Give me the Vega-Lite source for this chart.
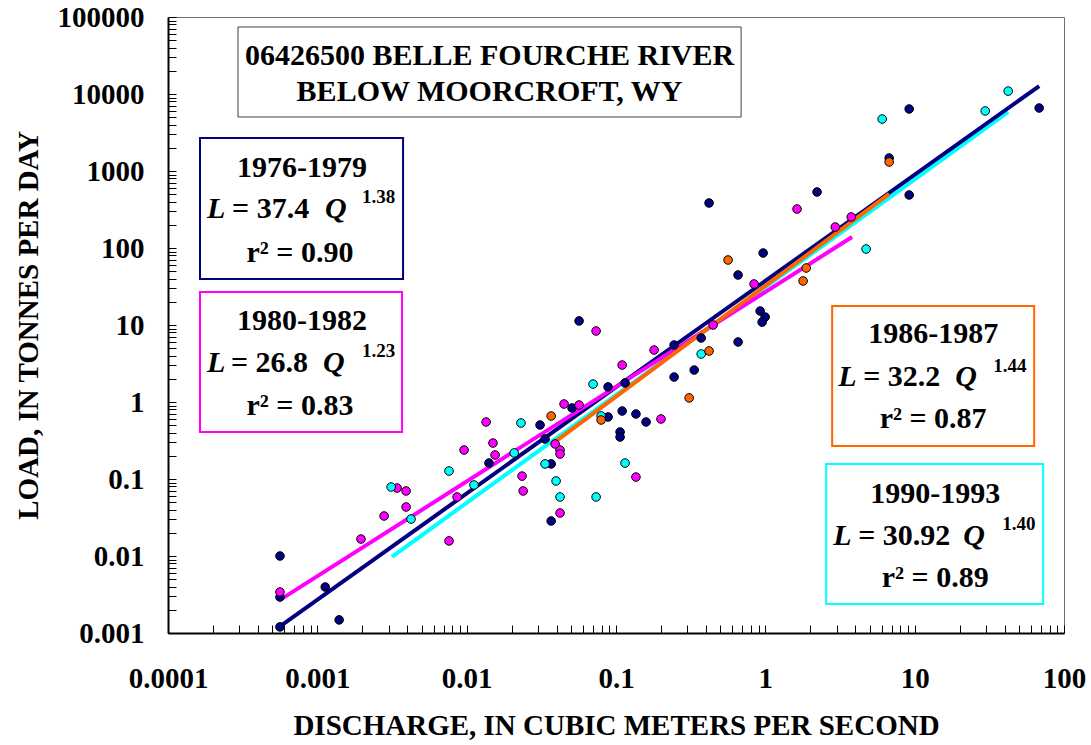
{
  "$schema": "https://vega.github.io/schema/vega-lite/v6.json",
  "width": 896,
  "height": 616,
  "autosize": {"type": "none"},
  "padding": {"left": 168, "top": 17, "right": 27, "bottom": 112},
  "background": "white",
  "config": {
    "font": "Liberation Serif",
    "view": {"stroke": "#707070", "strokeWidth": 1},
    "axis": {
      "grid": false,
      "domainColor": "black",
      "domainWidth": 2,
      "tickColor": "black",
      "tickWidth": 1,
      "tickSize": -8,
      "labelFont": "Liberation Serif",
      "labelFontSize": 29,
      "labelFontWeight": "bold",
      "labelColor": "black",
      "labelOverlap": false,
      "labelFlush": false,
      "labelBound": false,
      "titleFont": "Liberation Serif",
      "titleFontSize": 29,
      "titleFontWeight": "bold",
      "titleColor": "black"
    }
  },
  "datasets": {
    "pts": [
      {"period": "1976-1979", "Q": 0.000562, "L": 0.01},
      {"period": "1976-1979", "Q": 0.000562, "L": 0.00293},
      {"period": "1976-1979", "Q": 0.000562, "L": 0.0012},
      {"period": "1976-1979", "Q": 0.00113, "L": 0.00396},
      {"period": "1976-1979", "Q": 0.0014, "L": 0.00148},
      {"period": "1976-1979", "Q": 0.0141, "L": 0.161},
      {"period": "1976-1979", "Q": 0.031, "L": 0.503},
      {"period": "1976-1979", "Q": 0.0508, "L": 0.836},
      {"period": "1976-1979", "Q": 0.0335, "L": 0.331},
      {"period": "1976-1979", "Q": 0.0368, "L": 0.157},
      {"period": "1976-1979", "Q": 0.0368, "L": 0.0285},
      {"period": "1976-1979", "Q": 0.0885, "L": 1.57},
      {"period": "1976-1979", "Q": 0.0885, "L": 0.639},
      {"period": "1976-1979", "Q": 0.1065, "L": 0.408},
      {"period": "1976-1979", "Q": 0.1065, "L": 0.351},
      {"period": "1976-1979", "Q": 0.11, "L": 0.764},
      {"period": "1976-1979", "Q": 0.136, "L": 0.699},
      {"period": "1976-1979", "Q": 0.159, "L": 0.55},
      {"period": "1976-1979", "Q": 0.115, "L": 1.77},
      {"period": "1976-1979", "Q": 0.0566, "L": 11.3},
      {"period": "1976-1979", "Q": 0.245, "L": 5.5},
      {"period": "1976-1979", "Q": 0.372, "L": 6.78},
      {"period": "1976-1979", "Q": 0.245, "L": 2.11},
      {"period": "1976-1979", "Q": 0.334, "L": 2.6},
      {"period": "1976-1979", "Q": 0.657, "L": 6.02},
      {"period": "1976-1979", "Q": 0.923, "L": 15.2},
      {"period": "1976-1979", "Q": 0.997, "L": 12.7},
      {"period": "1976-1979", "Q": 0.952, "L": 10.9},
      {"period": "1976-1979", "Q": 0.42, "L": 384},
      {"period": "1976-1979", "Q": 2.22, "L": 534},
      {"period": "1976-1979", "Q": 9.19, "L": 6390},
      {"period": "1976-1979", "Q": 68.2, "L": 6580},
      {"period": "1976-1979", "Q": 6.75, "L": 1475},
      {"period": "1976-1979", "Q": 9.19, "L": 488},
      {"period": "1976-1979", "Q": 0.967, "L": 86.1},
      {"period": "1976-1979", "Q": 0.657, "L": 44.6},
      {"period": "1980-1982", "Q": 0.000562, "L": 0.00341},
      {"period": "1980-1982", "Q": 0.00196, "L": 0.0166},
      {"period": "1980-1982", "Q": 0.0028, "L": 0.0331},
      {"period": "1980-1982", "Q": 0.00342, "L": 0.0764},
      {"period": "1980-1982", "Q": 0.00393, "L": 0.0699},
      {"period": "1980-1982", "Q": 0.00393, "L": 0.0433},
      {"period": "1980-1982", "Q": 0.00762, "L": 0.0157},
      {"period": "1980-1982", "Q": 0.00863, "L": 0.0584},
      {"period": "1980-1982", "Q": 0.00961, "L": 0.238},
      {"period": "1980-1982", "Q": 0.0135, "L": 0.55},
      {"period": "1980-1982", "Q": 0.015, "L": 0.293},
      {"period": "1980-1982", "Q": 0.0155, "L": 0.205},
      {"period": "1980-1982", "Q": 0.0235, "L": 0.109},
      {"period": "1980-1982", "Q": 0.0239, "L": 0.0699},
      {"period": "1980-1982", "Q": 0.0422, "L": 0.238},
      {"period": "1980-1982", "Q": 0.0422, "L": 0.211},
      {"period": "1980-1982", "Q": 0.0391, "L": 0.285},
      {"period": "1980-1982", "Q": 0.0422, "L": 0.0362},
      {"period": "1980-1982", "Q": 0.0449, "L": 0.942},
      {"period": "1980-1982", "Q": 0.0566, "L": 0.914},
      {"period": "1980-1982", "Q": 0.136, "L": 0.106},
      {"period": "1980-1982", "Q": 0.2, "L": 0.602},
      {"period": "1980-1982", "Q": 0.0736, "L": 8.36},
      {"period": "1980-1982", "Q": 0.11, "L": 3.02},
      {"period": "1980-1982", "Q": 0.18, "L": 4.73},
      {"period": "1980-1982", "Q": 0.841, "L": 34.1},
      {"period": "1980-1982", "Q": 0.447, "L": 10},
      {"period": "1980-1982", "Q": 1.63, "L": 321},
      {"period": "1980-1982", "Q": 2.94, "L": 187},
      {"period": "1980-1982", "Q": 3.76, "L": 253},
      {"period": "1990-1993", "Q": 0.00312, "L": 0.0787},
      {"period": "1990-1993", "Q": 0.00424, "L": 0.0302},
      {"period": "1990-1993", "Q": 0.00762, "L": 0.127},
      {"period": "1990-1993", "Q": 0.0112, "L": 0.0836},
      {"period": "1990-1993", "Q": 0.0231, "L": 0.534},
      {"period": "1990-1993", "Q": 0.0208, "L": 0.218},
      {"period": "1990-1993", "Q": 0.0335, "L": 0.157},
      {"period": "1990-1993", "Q": 0.0397, "L": 0.0942},
      {"period": "1990-1993", "Q": 0.0422, "L": 0.0584},
      {"period": "1990-1993", "Q": 0.0736, "L": 0.0584},
      {"period": "1990-1993", "Q": 0.0702, "L": 1.71},
      {"period": "1990-1993", "Q": 0.0795, "L": 0.658},
      {"period": "1990-1993", "Q": 0.115, "L": 0.161},
      {"period": "1990-1993", "Q": 0.372, "L": 4.2},
      {"period": "1990-1993", "Q": 6.06, "L": 4730},
      {"period": "1990-1993", "Q": 29.7, "L": 6020},
      {"period": "1990-1993", "Q": 42.3, "L": 10900},
      {"period": "1990-1993", "Q": 4.73, "L": 97},
      {"period": "1986-1987", "Q": 0.0368, "L": 0.658},
      {"period": "1986-1987", "Q": 0.0795, "L": 0.584},
      {"period": "1986-1987", "Q": 0.42, "L": 4.6},
      {"period": "1986-1987", "Q": 0.309, "L": 1.13},
      {"period": "1986-1987", "Q": 1.79, "L": 37.3},
      {"period": "1986-1987", "Q": 0.563, "L": 69.9},
      {"period": "1986-1987", "Q": 6.75, "L": 1310},
      {"period": "1986-1987", "Q": 1.88, "L": 55}
    ],
    "fits": [
      {"period": "1976-1979", "Q": 0.000562, "L": 0.00122},
      {"period": "1976-1979", "Q": 68.2, "L": 12690},
      {"period": "1980-1982", "Q": 0.000562, "L": 0.00269},
      {"period": "1980-1982", "Q": 3.81, "L": 139},
      {"period": "1986-1987", "Q": 0.0373, "L": 0.283},
      {"period": "1986-1987", "Q": 6.75, "L": 504},
      {"period": "1990-1993", "Q": 0.00316, "L": 0.00977},
      {"period": "1990-1993", "Q": 42.3, "L": 5850}
    ],
    "boxes": [
      {"period": "1976-1979", "Q": 0.0001638, "Q2": 0.00375, "L": 39.57, "L2": 2683},
      {"period": "1980-1982", "Q": 0.0001638, "Q2": 0.003693, "L": 0.4077, "L2": 26.83},
      {"period": "1986-1987", "Q": 2.802, "Q2": 63.15, "L": 0.2683, "L2": 17.65},
      {"period": "1990-1993", "Q": 2.554, "Q2": 72.55, "L": 0.00238, "L2": 0.1566}
    ],
    "titlebox": [
      {"Q": 0.0002944, "Q2": 0.6884, "L": 5027, "L2": 74170}
    ],
    "heads": [
      {"Q": 0.01423, "L": 23800, "text": "06426500 BELLE FOURCHE RIVER"},
      {"Q": 0.01423, "L": 8113, "text": "BELOW MOORCROFT, WY"},
      {"Q": 0.0007897, "L": 835.9, "text": "1976-1979"},
      {"Q": 0.0007656, "L": 65.8, "text": "r² = 0.90"},
      {"Q": 0.0007897, "L": 8.61, "text": "1980-1982"},
      {"Q": 0.0007656, "L": 0.678, "text": "r² = 0.83"},
      {"Q": 13.3, "L": 5.837, "text": "1986-1987"},
      {"Q": 13.3, "L": 0.4596, "text": "r² = 0.87"},
      {"Q": 13.72, "L": 0.04879, "text": "1990-1993"},
      {"Q": 13.72, "L": 0.00396, "text": "r² = 0.89"}
    ],
    "italics": [
      {"Q": 0.0001825, "L": 245.2, "text": "L"},
      {"Q": 0.001126, "L": 245.2, "text": "Q"},
      {"Q": 0.0001825, "L": 2.453, "text": "L"},
      {"Q": 0.001092, "L": 2.453, "text": "Q"},
      {"Q": 3.073, "L": 1.614, "text": "L"},
      {"Q": 18.67, "L": 1.614, "text": "Q"},
      {"Q": 2.846, "L": 0.0139, "text": "L"},
      {"Q": 21.13, "L": 0.0139, "text": "Q"}
    ],
    "nums": [
      {"Q": 0.0002684, "L": 245.2, "text": "= 37.4"},
      {"Q": 0.0002642, "L": 2.453, "text": "= 26.8"},
      {"Q": 4.52, "L": 1.614, "text": "= 32.2"},
      {"Q": 4.184, "L": 0.0139, "text": "= 30.92"}
    ],
    "sups": [
      {"Q": 0.001993, "L": 384, "text": "1.38"},
      {"Q": 0.001993, "L": 3.84, "text": "1.23"},
      {"Q": 33.56, "L": 2.453, "text": "1.44"},
      {"Q": 38.56, "L": 0.02176, "text": "1.40"}
    ]
  },
  "encoding": {
    "x": {
      "field": "Q",
      "type": "quantitative",
      "scale": {"type": "log", "domain": [0.0001, 100], "nice": false},
      "axis": {
        "title": "DISCHARGE, IN CUBIC METERS PER SECOND",
        "values": [0.0001, 0.0002, 0.0003, 0.0004, 0.0005, 0.0006, 0.0007, 0.0008, 0.0009,
                   0.001, 0.002, 0.003, 0.004, 0.005, 0.006, 0.007, 0.008, 0.009,
                   0.01, 0.02, 0.03, 0.04, 0.05, 0.06, 0.07, 0.08, 0.09,
                   0.1, 0.2, 0.3, 0.4, 0.5, 0.6, 0.7, 0.8, 0.9,
                   1, 2, 3, 4, 5, 6, 7, 8, 9,
                   10, 20, 30, 40, 50, 60, 70, 80, 90, 100],
        "labelExpr": "abs(log(datum.value)/LN10 - round(log(datum.value)/LN10)) < 0.001 ? format(datum.value, '~g') : ''",
        "labelPadding": 39,
        "titlePadding": 18
      }
    },
    "y": {
      "field": "L",
      "type": "quantitative",
      "scale": {"type": "log", "domain": [0.001, 100000], "nice": false},
      "axis": {
        "title": "LOAD, IN TONNES PER DAY",
        "values": [0.001, 0.002, 0.003, 0.004, 0.005, 0.006, 0.007, 0.008, 0.009,
                   0.01, 0.02, 0.03, 0.04, 0.05, 0.06, 0.07, 0.08, 0.09,
                   0.1, 0.2, 0.3, 0.4, 0.5, 0.6, 0.7, 0.8, 0.9,
                   1, 2, 3, 4, 5, 6, 7, 8, 9,
                   10, 20, 30, 40, 50, 60, 70, 80, 90,
                   100, 200, 300, 400, 500, 600, 700, 800, 900,
                   1000, 2000, 3000, 4000, 5000, 6000, 7000, 8000, 9000,
                   10000, 20000, 30000, 40000, 50000, 60000, 70000, 80000, 90000, 100000],
        "labelExpr": "abs(log(datum.value)/LN10 - round(log(datum.value)/LN10)) < 0.001 ? format(datum.value, '~g') : ''",
        "labelPadding": 32,
        "titlePadding": 14
      }
    }
  },
  "layer": [
    {
      "data": {"name": "titlebox"},
      "mark": {"type": "rect", "fill": "white", "stroke": "#404040", "strokeWidth": 1},
      "encoding": {"x2": {"field": "Q2"}, "y2": {"field": "L2"}}
    },
    {
      "data": {"name": "boxes"},
      "mark": {"type": "rect", "fill": "white", "strokeWidth": 2},
      "encoding": {
        "x2": {"field": "Q2"},
        "y2": {"field": "L2"},
        "stroke": {
          "field": "period",
          "type": "nominal",
          "scale": {"domain": ["1976-1979", "1980-1982", "1986-1987", "1990-1993"], "range": ["#000080", "#FF00FF", "#FF6600", "#00FFFF"]},
          "legend": null
        }
      }
    },
    {
      "data": {"name": "fits"},
      "transform": [{"filter": "datum.period == '1990-1993'"}],
      "mark": {"type": "line", "strokeWidth": 4, "color": "#00FFFF"},
      "encoding": {}
    },
    {
      "data": {"name": "fits"},
      "transform": [{"filter": "datum.period == '1976-1979'"}],
      "mark": {"type": "line", "strokeWidth": 4, "color": "#000080"},
      "encoding": {}
    },
    {
      "data": {"name": "fits"},
      "transform": [{"filter": "datum.period == '1980-1982'"}],
      "mark": {"type": "line", "strokeWidth": 4, "color": "#FF00FF"},
      "encoding": {}
    },
    {
      "data": {"name": "fits"},
      "transform": [{"filter": "datum.period == '1986-1987'"}],
      "mark": {"type": "line", "strokeWidth": 4, "color": "#FF6600"},
      "encoding": {}
    },
    {
      "data": {"name": "pts"},
      "mark": {"type": "point", "shape": "circle", "filled": true, "size": 74, "stroke": "black", "strokeWidth": 1, "opacity": 1},
      "encoding": {
        "color": {
          "field": "period",
          "type": "nominal",
          "scale": {"domain": ["1976-1979", "1980-1982", "1986-1987", "1990-1993"], "range": ["#000080", "#FF00FF", "#FF6600", "#00FFFF"]},
          "legend": null
        }
      }
    },
    {
      "data": {"name": "heads"},
      "mark": {"type": "text", "font": "Liberation Serif", "fontSize": 30, "fontWeight": "bold", "align": "center", "baseline": "alphabetic", "color": "black"},
      "encoding": {"text": {"field": "text"}}
    },
    {
      "data": {"name": "italics"},
      "mark": {"type": "text", "font": "Liberation Serif", "fontSize": 30, "fontWeight": "bold", "fontStyle": "italic", "align": "left", "baseline": "alphabetic", "color": "black"},
      "encoding": {"text": {"field": "text"}}
    },
    {
      "data": {"name": "nums"},
      "mark": {"type": "text", "font": "Liberation Serif", "fontSize": 30, "fontWeight": "bold", "align": "left", "baseline": "alphabetic", "color": "black"},
      "encoding": {"text": {"field": "text"}}
    },
    {
      "data": {"name": "sups"},
      "mark": {"type": "text", "font": "Liberation Serif", "fontSize": 19, "fontWeight": "bold", "align": "left", "baseline": "alphabetic", "color": "black"},
      "encoding": {"text": {"field": "text"}}
    }
  ]
}
